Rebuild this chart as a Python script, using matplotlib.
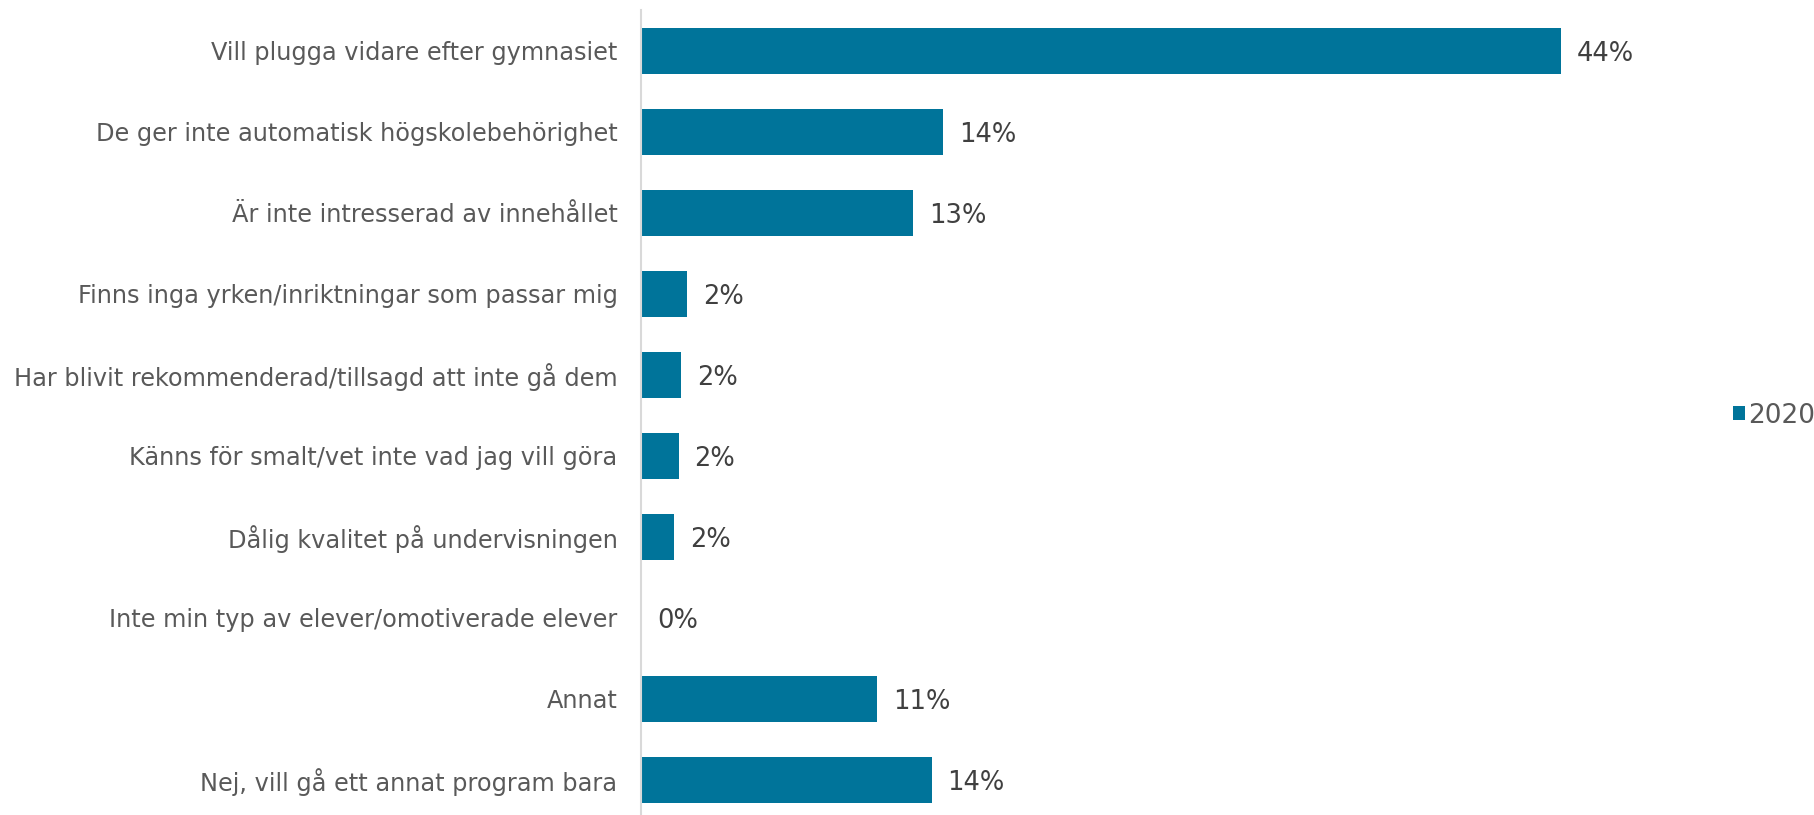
import matplotlib.pyplot as plt
from matplotlib.patches import Patch

categories = [
    "Vill plugga vidare efter gymnasiet",
    "De ger inte automatisk högskolebehörighet",
    "Är inte intresserad av innehållet",
    "Finns inga yrken/inriktningar som passar mig",
    "Har blivit rekommenderad/tillsagd att inte gå dem",
    "Känns för smalt/vet inte vad jag vill göra",
    "Dålig kvalitet på undervisningen",
    "Inte min typ av elever/omotiverade elever",
    "Annat",
    "Nej, vill gå ett annat program bara",
]
values_2020 = [44.0, 14.45, 13.0, 2.2, 1.9, 1.8, 1.6, 0.0, 11.3, 13.9]
series_name = "2020"

BAR_COLOR = "#00749A"
LABEL_COLOR = "#595959"
VALUE_COLOR = "#404040"

W, H = 1815, 815
fig = plt.figure(figsize=(W / 100, H / 100), dpi=100)
ax = fig.add_axes([641 / W, -5.5 / H, 1045 / W, 810 / H])

ypos = list(range(len(categories)))
ax.barh(ypos, values_2020, height=0.57, color=BAR_COLOR)
ax.set_ylim(len(categories) - 0.5, -0.5)
ax.set_xlim(0, 50)

ax.set_yticks(ypos)
ax.set_yticklabels(categories, fontsize=17.3, color=LABEL_COLOR)
ax.tick_params(axis="y", length=0, pad=17)
ax.set_xticks([])

for s in ["top", "right", "bottom"]:
    ax.spines[s].set_visible(False)
ax.spines["left"].set_color("#D9D9D9")
ax.spines["left"].set_linewidth(1.5)

for y, v in zip(ypos, values_2020):
    ax.annotate(f"{round(v):.0f}%", xy=(v, y), xytext=(11.5, -2.5),
                textcoords="offset points", va="center", ha="left",
                fontsize=18.5, color=VALUE_COLOR)

handle = Patch(facecolor=BAR_COLOR, edgecolor="none")
fig.legend([handle], [series_name], loc="center right",
           bbox_to_anchor=(1.0, 0.49), frameon=False, fontsize=19,
           handlelength=0.45, handleheight=0.45, handletextpad=0.12,
           borderaxespad=0, borderpad=0, labelcolor=LABEL_COLOR)

fig.savefig("out.png", dpi=100)
